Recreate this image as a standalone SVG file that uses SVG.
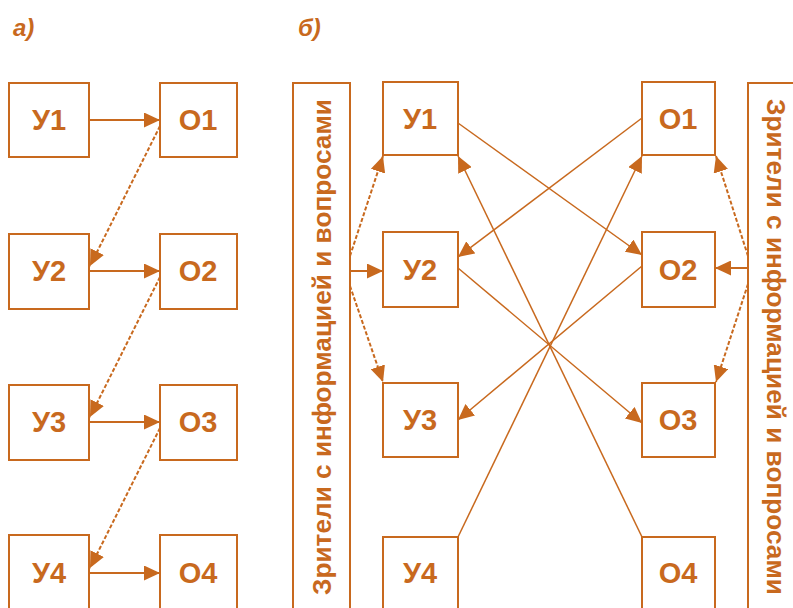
<svg xmlns="http://www.w3.org/2000/svg" width="793" height="608" viewBox="0 0 793 608">
<style>
.box{fill:#fff;stroke:#c8691e;stroke-width:2}
.lbl{font-family:"Liberation Sans","DejaVu Sans",sans-serif;font-weight:bold;font-size:29px;fill:#c8691e;text-anchor:middle}
.cap{font-family:"Liberation Sans","DejaVu Sans",sans-serif;font-weight:bold;font-size:26px;fill:#c8691e;text-anchor:middle}
.pl{font-family:"Liberation Sans","DejaVu Sans",sans-serif;font-weight:bold;font-style:italic;font-size:24px;fill:#c8691e}
.ln{stroke:#c8691e;stroke-width:2;fill:none;marker-end:url(#ah)}
.dl{stroke:#c8691e;stroke-width:2;fill:none;stroke-dasharray:4 2;marker-end:url(#ah)}
.tl{stroke:#c8691e;stroke-width:1.5;fill:none;marker-end:url(#ah)}
</style>
<defs>
<marker id="ah" markerUnits="userSpaceOnUse" markerWidth="17" markerHeight="15" refX="16" refY="7.5" orient="auto">
<path d="M0,0 L16,7.5 L0,15 z" fill="#c8691e"/>
</marker>
</defs>
<rect width="793" height="608" fill="#fff"/>
<text class="pl" x="13" y="36">а)</text>
<text class="pl" x="298" y="36">б)</text>

<g id="a-Y1"><rect class="box" x="9" y="83" width="80" height="74"/><text class="lbl" x="49" y="130">У1</text></g>
<g id="a-O1"><rect class="box" x="160" y="83" width="77" height="74"/><text class="lbl" x="198" y="130">О1</text></g>
<g id="a-Y2"><rect class="box" x="9" y="234" width="80" height="75"/><text class="lbl" x="49" y="281">У2</text></g>
<g id="a-O2"><rect class="box" x="160" y="234" width="77" height="75"/><text class="lbl" x="198" y="281">О2</text></g>
<g id="a-Y3"><rect class="box" x="9" y="385" width="80" height="75"/><text class="lbl" x="49" y="432">У3</text></g>
<g id="a-O3"><rect class="box" x="160" y="385" width="77" height="75"/><text class="lbl" x="198" y="432">О3</text></g>
<g id="a-Y4"><rect class="box" x="9" y="535" width="80" height="85"/><text class="lbl" x="49" y="583">У4</text></g>
<g id="a-O4"><rect class="box" x="160" y="535" width="77" height="85"/><text class="lbl" x="198" y="583">О4</text></g>

<g id="b-left-bar"><rect class="box" x="293" y="83" width="57" height="540"/><text class="cap" transform="translate(322,347) rotate(-90)" y="9" textLength="496" lengthAdjust="spacingAndGlyphs">Зрители с информацией и вопросами</text></g>
<g id="b-right-bar"><rect class="box" x="748" y="83" width="60" height="540"/><text class="cap" transform="translate(776,347) rotate(90)" y="9" textLength="496" lengthAdjust="spacingAndGlyphs">Зрители с информацией и вопросами</text></g>

<g id="b-Y1"><rect class="box" x="383" y="82" width="75" height="73"/><text class="lbl" x="420" y="129">У1</text></g>
<g id="b-Y2"><rect class="box" x="383" y="232" width="75" height="75"/><text class="lbl" x="420" y="280">У2</text></g>
<g id="b-Y3"><rect class="box" x="383" y="383" width="75" height="74"/><text class="lbl" x="420" y="430">У3</text></g>
<g id="b-Y4"><rect class="box" x="383" y="537" width="75" height="85"/><text class="lbl" x="420" y="583">У4</text></g>
<g id="b-O1"><rect class="box" x="642" y="82" width="73" height="73"/><text class="lbl" x="678" y="129">О1</text></g>
<g id="b-O2"><rect class="box" x="642" y="232" width="73" height="75"/><text class="lbl" x="678" y="280">О2</text></g>
<g id="b-O3"><rect class="box" x="642" y="383" width="73" height="74"/><text class="lbl" x="678" y="430">О3</text></g>
<g id="b-O4"><rect class="box" x="642" y="537" width="73" height="85"/><text class="lbl" x="678" y="583">О4</text></g>

<g id="connectors">
<line class="ln" x1="89" y1="120" x2="160" y2="120"/>
<line class="dl" x1="160" y1="126" x2="90" y2="266"/>
<line class="ln" x1="89" y1="271" x2="160" y2="271"/>
<line class="dl" x1="160" y1="277" x2="90" y2="417"/>
<line class="ln" x1="89" y1="422" x2="160" y2="422"/>
<line class="dl" x1="160" y1="428" x2="90" y2="568"/>
<line class="ln" x1="89" y1="573" x2="160" y2="573"/>

<line class="ln" x1="350" y1="271" x2="383" y2="271"/>
<line class="dl" x1="350" y1="256" x2="383" y2="156"/>
<line class="dl" x1="350" y1="286" x2="383" y2="382"/>
<line class="ln" x1="748" y1="268" x2="715" y2="268"/>
<line class="dl" x1="748" y1="256" x2="716" y2="156"/>
<line class="dl" x1="748" y1="284" x2="716" y2="382"/>

<line class="tl" x1="458" y1="123" x2="642" y2="255"/>
<line class="tl" x1="642" y1="118" x2="458" y2="257"/>
<line class="tl" x1="458" y1="268" x2="642" y2="423"/>
<line class="tl" x1="642" y1="266" x2="458" y2="420"/>
<line class="tl" x1="458" y1="537" x2="642" y2="156"/>
<line class="tl" x1="642" y1="537" x2="458" y2="156"/>
</g>
</svg>
